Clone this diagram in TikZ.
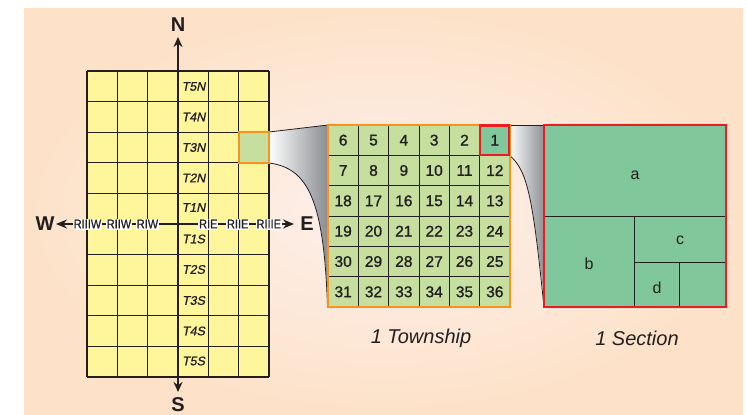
\documentclass[tikz,border=0pt]{standalone}
\usepackage{fontspec}
\setmainfont{Liberation Sans}
\newfontfamily\medfont[FakeBold=1.2]{Liberation Sans}
\newfontfamily\meditfont[FakeBold=1.0,FakeSlant=0.2]{Liberation Sans}
\newfontfamily\condfont[FakeBold=0.8,FakeStretch=0.88]{Liberation Sans}
\usetikzlibrary{arrows.meta}
\definecolor{bgout}{HTML}{FDE2C9}
\definecolor{bgin}{HTML}{FDF0EC}
\definecolor{yel}{HTML}{FFF69B}
\definecolor{lgreen}{HTML}{C6DF9E}
\definecolor{dgreen}{HTML}{80C89B}
\definecolor{orangec}{HTML}{F7941E}
\definecolor{redc}{HTML}{ED1C24}
\definecolor{ink}{HTML}{231F20}
\definecolor{fgray}{HTML}{8A8C90}
\tikzset{
 compass/.style={font=\fontsize{20}{20}\bfseries\selectfont, text=ink, inner sep=0pt},
 tlab/.style={font=\fontsize{12.5}{12.5}\meditfont, text=ink, inner sep=0pt},
 rlab/.style={font=\fontsize{12.5}{12.5}\condfont, text=ink, fill=white, inner xsep=0.8pt, inner ysep=1.2pt},
 numlab/.style={font=\fontsize{15.5}{15.5}\medfont, text=ink, inner sep=0pt},
 letlab/.style={font=\fontsize{16}{16}\selectfont, text=ink, inner sep=0pt},
 caption/.style={font=\fontsize{20}{20}\itshape\selectfont, text=ink, inner sep=0pt},
 gridline/.style={draw=ink, line width=1.1pt},
 thinline/.style={draw=ink, line width=0.9pt},
 axis/.style={draw=ink, line width=1.8pt, -{Stealth[length=10pt,width=9pt]}},
 haxis/.style={draw=ink, line width=1.4pt, -{Stealth[length=11pt,width=9pt]}},
}
\begin{document}
\begin{tikzpicture}[x=1pt,y=-1pt]
\useasboundingbox (0,0) rectangle (747,415);
% background
\shade[inner color=bgin, outer color=bgout] (24,8) rectangle (743,414);

% funnel 1
\shade[left color=white, right color=fgray]
  (269,132) -- (328,125) -- (328,307) .. controls (324,200) and (308,168) .. (269,163) -- cycle;
\draw[ink, line width=0.8pt] (269,132) -- (328,125);
\draw[ink, line width=0.8pt] (269,163) .. controls (308,168) and (324,200) .. (327.5,307);

% funnel 2
\shade[left color=white, right color=fgray]
  (509,125) -- (545,125) -- (545,307) .. controls (533,200) and (528,170) .. (509,155) -- cycle;
\draw[ink, line width=0.6pt] (509,125) -- (545,125);
\draw[ink, line width=0.8pt] (509,155) .. controls (528,170) and (533,200) .. (544,307);

% left grid
\fill[yel] (87,71) rectangle (269,377);
\foreach \i in {0,...,6} \draw[gridline] (87+\i*30.333,71) -- (87+\i*30.333,377);
\foreach \j in {0,...,10} \draw[gridline] (87,71+\j*30.6) -- (269,71+\j*30.6);
\filldraw[fill=lgreen, draw=orangec, line width=2pt] (239.3,132.2) rectangle (269,162.8);

% axes
\node[compass] (N) at (178,25) {N};
\node[compass] (S) at (178,405) {S};
\node[compass] (W) at (45,224) {W};
\node[compass] (E) at (307,224) {E};
\coordinate (ntip) at (178,37);
\coordinate (stip) at (178,392);
\coordinate (wtip) at (56,224);
\coordinate (etip) at (294,224);
\coordinate (ctr) at (178,224);
\draw[axis] (ctr) -- (ntip);
\draw[axis] (ctr) -- (stip);
\draw[haxis] (ctr) -- (wtip);
\draw[haxis] (ctr) -- (etip);

\node[rlab] (r3w) at (87.5,224) {RIIIW};
\node[rlab] (r2w) at (119,224) {RIIW};
\node[rlab] (r1w) at (147.5,224) {RIW};
\node[rlab] (r1e) at (208.3,224) {RIE};
\node[rlab] (r2e) at (237.7,224) {RIIE};
\node[rlab] (r3e) at (268.8,224) {RIIIE};

\foreach \t/\y in {T5N/86.5,T4N/117,T3N/147.5,T2N/178,T1N/207.5,T1S/239,T2S/269.5,T3S/300.5,T4S/331,T5S/361}
  \node[tlab] (\t) at (193.5,\y) {\t};

% township
\fill[lgreen] (328,125) rectangle (510,307);
\fill[dgreen] (479.7,125) rectangle (510,155.3);
\foreach \i in {1,...,5} \draw[thinline] (328+\i*30.333,125) -- (328+\i*30.333,307);
\foreach \j in {1,...,5} \draw[thinline] (328,125+\j*30.333) -- (510,125+\j*30.333);
\draw[orangec, line width=2pt] (328,125) rectangle (510,307);
\draw[redc, line width=2.2pt] (479.7,125.5) rectangle (509,155.3);
\foreach \n [count=\k from 0] in {6,5,4,3,2,1,7,8,9,10,11,12,18,17,16,15,14,13,19,20,21,22,23,24,30,29,28,27,26,25,31,32,33,34,35,36}{
  \pgfmathtruncatemacro{\r}{int(\k/6)}
  \pgfmathtruncatemacro{\c}{mod(\k,6)}
  \node[numlab] (s\n) at (328+\c*30.333+15.17,125+\r*30.333+15.17) {\n};
}

% section
\fill[dgreen] (544,125) rectangle (726,307);
\draw[thinline] (544,216.5) -- (726,216.5);
\draw[thinline] (634.3,216.5) -- (634.3,307);
\draw[thinline] (634.3,262) -- (726,262);
\draw[thinline] (679.3,262) -- (679.3,307);
\draw[redc, line width=2.2pt] (544,125) rectangle (726,307);
\node[letlab] (a) at (635,175) {a};
\node[letlab] (b) at (589,264) {b};
\node[letlab] (c) at (680,240) {c};
\node[letlab] (d) at (657,288) {d};

% captions
\node[caption] (cap1) at (421,338) {1 Township};
\node[caption] (cap2) at (637,338) {1 Section};
\end{tikzpicture}
\end{document}
